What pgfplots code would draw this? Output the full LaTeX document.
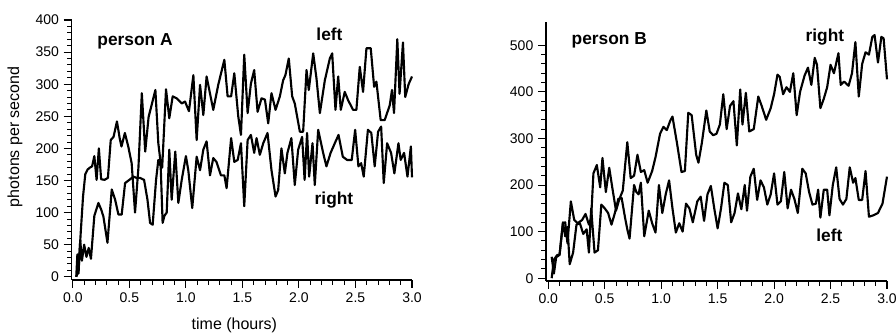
\documentclass[border=0pt]{standalone}
\usepackage{fontspec}
\setmainfont{Liberation Sans}
\usepackage{pgfplots}
\pgfplotsset{compat=1.18}
\pgfplotsset{myaxis/.style={
 scale only axis, axis x line=bottom, axis y line=left,
 axis line style={line width=0.9pt,-},
 tick align=outside, major tick length=6pt, minor tick length=3.5pt,
 major tick style={line width=0.8pt, black},
 minor tick style={line width=0.7pt, black},
 xminorticks=true, yminorticks=true,
 xmin=-0.01, xmax=3, xtick={0,0.5,...,3}, minor x tick num=4,
 xticklabel style={/pgf/number format/.cd, fixed, fixed zerofill, precision=1, /tikz/.cd},
 /pgf/number format/assume math mode=true,
 tick label style={font=\fontsize{10.5}{12}\selectfont},
 xlabel style={font=\fontsize{12}{14}\selectfont},
 ylabel style={font=\fontsize{12}{14}\selectfont},
 clip=false,
}}
\tikzset{dl/.style={black, line width=1.6pt, line join=round, mark=none}}
\begin{document}
\begin{tikzpicture}
\useasboundingbox (0,0) rectangle (672pt,251.25pt);
\begin{axis}[myaxis, at={(53.8pt,41.25pt)}, anchor=south west,
 width=255.2pt, height=195pt, ymin=-5, ymax=400, ytick={0,50,...,400}, minor y tick num=4,
 xlabel={time (hours)}, xlabel style={at={(axis description cs:0.478,-0.173)}, anchor=center},
 ylabel={photons per second}, ylabel style={at={(axis description cs:-0.1666,0.551)}, anchor=center}]
% left (upper)
\addplot[dl] coordinates {(0.03,0) (0.05,10) (0.07,70) (0.09,125) (0.11,160) (0.13,167) (0.15,170) (0.17,172) (0.19,188) (0.21,151) (0.23,200) (0.25,152) (0.28,151) (0.31,154) (0.335,213) (0.36,218) (0.39,242) (0.415,215) (0.43,203) (0.46,224) (0.49,203) (0.52,177) (0.55,100) (0.58,170) (0.61,286) (0.64,195) (0.67,249) (0.70,270) (0.73,291) (0.756,208) (0.777,177) (0.79,170) (0.824,292) (0.853,247) (0.883,281) (0.918,278) (0.963,270) (0.992,273) (1.027,258) (1.066,314) (1.095,213) (1.125,299) (1.154,252) (1.183,312) (1.242,260) (1.286,299) (1.34,338) (1.369,281) (1.40,281) (1.428,317) (1.463,250) (1.487,221) (1.516,346) (1.546,255) (1.575,301) (1.604,322) (1.634,257) (1.669,278) (1.699,276) (1.728,239) (1.757,286) (1.793,260) (1.831,281) (1.86,306) (1.88,314) (1.91,340) (1.94,281) (1.963,270) (2.008,226) (2.037,226) (2.067,322) (2.087,291) (2.126,348) (2.155,309) (2.185,255) (2.229,306) (2.273,340) (2.294,348) (2.323,260) (2.347,312) (2.37,260) (2.405,288) (2.435,275) (2.479,260) (2.508,260) (2.538,327) (2.567,288) (2.597,356) (2.635,356) (2.665,296) (2.685,304) (2.723,244) (2.758,244) (2.803,267) (2.823,291) (2.841,255) (2.87,370) (2.89,285) (2.92,365) (2.94,280) (2.97,300) (3.0,312)};
% right (lower)
\addplot[dl] coordinates {(0.03,0) (0.04,35) (0.05,5) (0.065,57) (0.08,25) (0.10,50) (0.12,31) (0.14,45) (0.16,28) (0.19,95) (0.226,115) (0.25,105) (0.27,94) (0.306,53) (0.344,136) (0.374,120) (0.403,97) (0.432,97) (0.462,146) (0.5,151) (0.535,156) (0.565,154) (0.594,154) (0.63,151) (0.66,120) (0.683,84) (0.706,81) (0.736,151) (0.756,182) (0.777,172) (0.794,84) (0.81,95) (0.83,100) (0.853,198) (0.874,120) (0.906,195) (0.933,115) (0.963,151) (1.0,188) (1.021,166) (1.056,107) (1.095,187) (1.125,166) (1.154,198) (1.183,211) (1.213,158) (1.242,185) (1.27,179) (1.31,158) (1.34,158) (1.36,138) (1.40,216) (1.428,179) (1.458,182) (1.487,208) (1.516,110) (1.546,213) (1.575,221) (1.604,193) (1.625,216) (1.654,190) (1.684,208) (1.722,224) (1.757,166) (1.793,125) (1.816,135) (1.845,200) (1.875,161) (1.898,193) (1.933,216) (1.963,143) (1.993,198) (2.028,218) (2.05,151) (2.072,224) (2.09,156) (2.12,208) (2.14,143) (2.17,229) (2.214,193) (2.243,172) (2.28,193) (2.317,208) (2.35,221) (2.388,187) (2.426,182) (2.467,182) (2.497,229) (2.526,172) (2.55,177) (2.573,156) (2.61,229) (2.64,224) (2.67,172) (2.7,226) (2.727,234) (2.75,146) (2.78,208) (2.815,193) (2.844,161) (2.88,208) (2.9,182) (2.93,193) (2.96,156) (2.99,203) (3.0,155)};
\node[font=\bfseries\fontsize{13}{15}\selectfont] at (axis cs:0.55,366) {person A};
\node[font=\bfseries\fontsize{13}{15}\selectfont] at (axis cs:2.27,377) {left};
\node[font=\bfseries\fontsize{13}{15}\selectfont] at (axis cs:2.31,120) {right};
\end{axis}
\begin{axis}[myaxis, xmin=-0.02, at={(409.5pt,40.5pt)}, anchor=south west,
 width=255.75pt, height=194.25pt, ymin=-6, ymax=550, ytick={0,100,...,500}, minor y tick num=4]
% right (upper)
\addplot[dl] coordinates {(0.03,46) (0.05,10) (0.07,45) (0.1,50) (0.13,118) (0.15,120) (0.17,75) (0.2,165) (0.23,125) (0.26,118) (0.3,125) (0.33,138) (0.36,115) (0.38,130) (0.4,225) (0.43,243) (0.46,195) (0.48,258) (0.51,185) (0.54,237) (0.57,190) (0.6,145) (0.63,170) (0.66,188) (0.7,292) (0.73,215) (0.76,220) (0.79,265) (0.82,228) (0.85,232) (0.88,205) (0.92,230) (0.95,260) (0.99,310) (1.02,325) (1.05,318) (1.08,338) (1.1,347) (1.14,290) (1.18,228) (1.21,230) (1.24,355) (1.27,350) (1.31,265) (1.33,248) (1.36,290) (1.4,360) (1.43,315) (1.46,307) (1.49,310) (1.52,330) (1.55,395) (1.58,320) (1.61,370) (1.64,380) (1.67,285) (1.7,405) (1.72,330) (1.75,398) (1.78,315) (1.82,320) (1.86,390) (1.89,370) (1.93,340) (1.97,365) (2.0,395) (2.03,437) (2.05,432) (2.08,395) (2.11,410) (2.14,400) (2.17,440) (2.2,350) (2.23,400) (2.27,435) (2.3,452) (2.33,415) (2.36,473) (2.38,458) (2.41,365) (2.44,385) (2.47,410) (2.5,458) (2.53,440) (2.57,483) (2.59,415) (2.62,422) (2.66,413) (2.69,440) (2.72,507) (2.75,390) (2.78,460) (2.81,485) (2.84,480) (2.87,518) (2.89,522) (2.92,463) (2.95,518) (2.97,515) (3.0,427)};
% left (lower)
\addplot[dl] coordinates {(0.03,0) (0.05,40) (0.08,50) (0.1,50) (0.13,120) (0.15,90) (0.17,110) (0.19,30) (0.22,55) (0.25,115) (0.28,118) (0.31,95) (0.34,105) (0.36,55) (0.38,150) (0.41,55) (0.44,60) (0.47,158) (0.5,150) (0.53,140) (0.56,115) (0.59,140) (0.62,170) (0.65,172) (0.68,130) (0.7,105) (0.72,85) (0.76,200) (0.78,185) (0.8,180) (0.82,205) (0.85,90) (0.89,145) (0.92,118) (0.95,98) (0.98,200) (1.01,140) (1.04,180) (1.07,210) (1.1,150) (1.13,98) (1.16,118) (1.19,100) (1.22,160) (1.25,150) (1.28,120) (1.32,165) (1.35,175) (1.38,123) (1.41,180) (1.44,198) (1.47,150) (1.5,107) (1.53,150) (1.56,205) (1.59,200) (1.62,120) (1.65,140) (1.68,182) (1.71,148) (1.74,200) (1.76,145) (1.79,218) (1.82,235) (1.85,168) (1.88,210) (1.91,195) (1.94,158) (1.97,180) (2.0,225) (2.03,158) (2.06,165) (2.09,228) (2.12,150) (2.15,190) (2.18,170) (2.21,140) (2.25,235) (2.28,225) (2.31,185) (2.34,158) (2.37,160) (2.39,190) (2.41,130) (2.44,190) (2.47,190) (2.49,135) (2.52,200) (2.55,238) (2.58,170) (2.61,158) (2.64,170) (2.67,238) (2.7,205) (2.72,215) (2.75,168) (2.78,168) (2.81,230) (2.84,132) (2.88,135) (2.92,140) (2.96,160) (3.0,218)};
\node[font=\bfseries\fontsize{13}{15}\selectfont] at (axis cs:0.54,511) {person B};
\node[font=\bfseries\fontsize{13}{15}\selectfont] at (axis cs:2.45,517) {right};
\node[font=\bfseries\fontsize{13}{15}\selectfont] at (axis cs:2.49,93) {left};
\end{axis}
\end{tikzpicture}
\end{document}
